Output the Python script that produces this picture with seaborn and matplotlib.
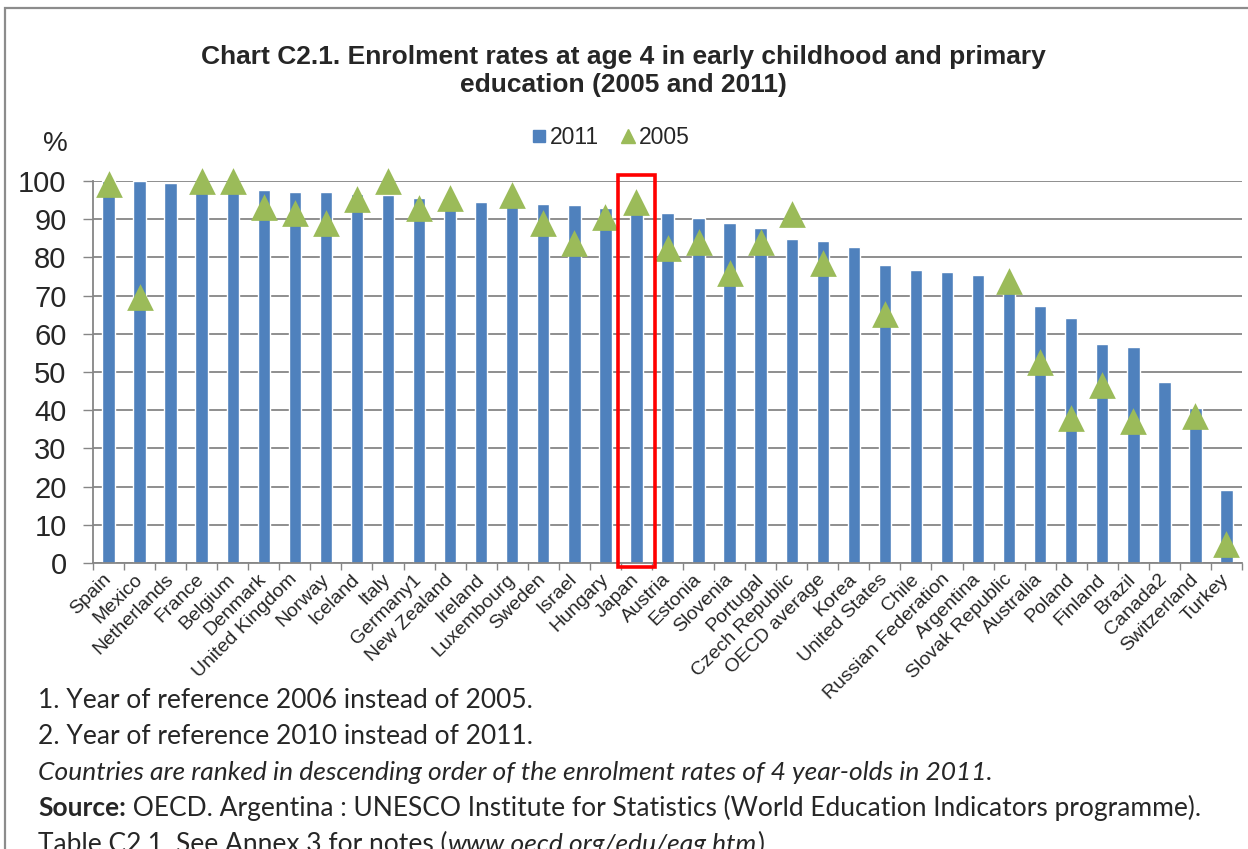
import numpy as np
import pandas as pd
import matplotlib
matplotlib.use("Agg")
import matplotlib.pyplot as plt
import seaborn as sns
from matplotlib.patches import Rectangle
from matplotlib.lines import Line2D
from matplotlib.transforms import Bbox

# Data
countries = [
    "Spain", "Mexico", "Netherlands", "France", "Belgium", "Denmark",
    "United Kingdom", "Norway", "Iceland", "Italy", "Germany1", "New Zealand",
    "Ireland", "Luxembourg", "Sweden", "Israel", "Hungary", "Japan", "Austria",
    "Estonia", "Slovenia", "Portugal", "Czech Republic", "OECD average",
    "Korea", "United States", "Chile", "Russian Federation", "Argentina",
    "Slovak Republic", "Australia", "Poland", "Finland", "Brazil", "Canada2",
    "Switzerland", "Turkey",
]
rate_2011 = [
    100, 100, 99.6, 99.5, 98.5, 97.6, 97.0, 97.0, 96.7, 96.3, 95.5, 95.0,
    94.6, 94.3, 94.0, 93.6, 92.9, 92.0, 91.5, 90.2, 88.9, 87.8, 84.9, 84.4,
    82.7, 78.1, 76.6, 76.3, 75.3, 72.0, 67.2, 64.1, 57.4, 56.6, 47.4, 40.7,
    19.0,
]
nan = np.nan
rate_2005 = [
    99.3, 69.6, nan, 100, 100, 93.3, 91.6, 88.9, 95.2, 100, 93.0, 95.5,
    nan, 96.3, 88.9, 83.8, 90.6, 94.6, 82.5, 84.1, 75.9, 84.0, 91.4, 78.6,
    nan, 65.2, nan, nan, nan, 73.8, 52.7, 38.0, 46.6, 37.1, nan, 38.5,
    4.9,
]
highlight = "Japan"

BLUE = "#4F81BD"
GREEN = "#9BBB59"
GRID = "#868686"

df = pd.DataFrame({"country": countries, "y2011": rate_2011, "y2005": rate_2005})
df["pos"] = np.arange(len(df))

sns.set_style("white")
plt.rcParams["font.family"] = ["Liberation Sans", "DejaVu Sans"]

W, H = 1248, 849
fig = plt.figure(figsize=(W / 100, H / 100), dpi=100)
ax = fig.add_axes([93 / W, 1 - 563 / H, (1242 - 93) / W, (563 - 181) / H])

sns.barplot(data=df, x="country", y="y2011", order=countries, color=BLUE,
            saturation=1, width=0.4, ax=ax, zorder=2)
sns.scatterplot(data=df, x="pos", y="y2005", marker="^", s=370, color=GREEN,
                linewidth=0, clip_on=False, zorder=3, ax=ax)

n = len(countries)
ax.set_xlim(-0.5, n - 0.5)
ax.set_ylim(0, 100)
ax.set_xlabel("")
ax.set_ylabel("")

ax.set_yticks(np.arange(0, 101, 10))
ax.yaxis.grid(True, color=GRID, linewidth=1.3, zorder=0)
ax.set_axisbelow(True)
ax.tick_params(axis="y", left=True, length=7, width=1, color=GRID,
               labelsize=21, pad=12)

ax.set_xticks(np.arange(n))
ax.set_xticklabels(countries, rotation=45, ha="right", va="center",
                   rotation_mode="anchor", fontsize=14)
ax.set_xticks(np.arange(-0.5, n, 1), minor=True)
ax.tick_params(axis="x", which="major", length=0, pad=10)
ax.tick_params(axis="x", which="minor", bottom=True, length=5, width=1,
               color=GRID)

for side in ["top", "right"]:
    ax.spines[side].set_visible(False)
for side in ["left", "bottom"]:
    ax.spines[side].set_color(GRID)
    ax.spines[side].set_linewidth(1.3)

# red box around Japan
j = countries.index(highlight)
ax.add_patch(Rectangle((j - 0.6, -1.0), 1.2, 102.5, fill=False,
                       edgecolor="#FF0000", linewidth=2.6, clip_on=False,
                       zorder=5))

# title and legend
fig.text(623 / W, 1 - 71 / H,
         "Chart C2.1. Enrolment rates at age 4 in early childhood and primary\n"
         "education (2005 and 2011)",
         ha="center", va="center", fontsize=19, fontweight="bold",
         linespacing=1.2)

handles = [
    Line2D([], [], marker="s", linestyle="none", color=BLUE, markersize=9),
    Line2D([], [], marker="^", linestyle="none", color=GREEN, markersize=10),
]
fig.legend(handles, ["2011", "2005"], loc="center", ncol=2, frameon=False,
           bbox_to_anchor=(611 / W, 1 - 138 / H), fontsize=16.5,
           handlelength=0.6, handletextpad=0.15, columnspacing=1.0)

# "%" label, its lower part hidden as in the original
pct = fig.text(55 / W, 1 - 144 / H, "%", ha="center", va="center", fontsize=20)
pct.set_clip_box(Bbox.from_extents(0, H - 151, W, H))
pct.set_clip_on(True)

# chart frame
fig.add_artist(Rectangle((5 / W, -0.05), 1.2, 1.05 - 8 / H,
                         transform=fig.transFigure, fill=False,
                         edgecolor="#8C8C8C", linewidth=1.6))

# footnotes (mixed styles written piece by piece)
fig.canvas.draw()
renderer = fig.canvas.get_renderer()
note_font = ["Lato", "DejaVu Sans"]
note_size = 19


def note_line(y_px, pieces):
    x = 38
    for txt, style, weight in pieces:
        t = fig.text(x / W, 1 - y_px / H, txt, ha="left", va="baseline",
                     fontsize=note_size, family=note_font, style=style,
                     fontweight=weight)
        x = t.get_window_extent(renderer).x1


note_line(708, [("1. Year of reference 2006 instead of 2005.", "normal", "normal")])
note_line(744, [("2. Year of reference 2010 instead of 2011.", "normal", "normal")])
note_line(780, [("Countries are ranked in descending order of the enrolment rates "
                 "of 4 year-olds in 2011.", "italic", "normal")])
note_line(816, [("Source:", "normal", "bold"),
                (" OECD. Argentina : UNESCO Institute for Statistics (World "
                 "Education Indicators programme).", "normal", "normal")])
note_line(852, [("Table C2.1. See Annex 3 for notes (", "normal", "normal"),
                ("www.oecd.org/edu/eag.htm", "italic", "normal"),
                (").", "normal", "normal")])

fig.savefig("out.png", dpi=100)
